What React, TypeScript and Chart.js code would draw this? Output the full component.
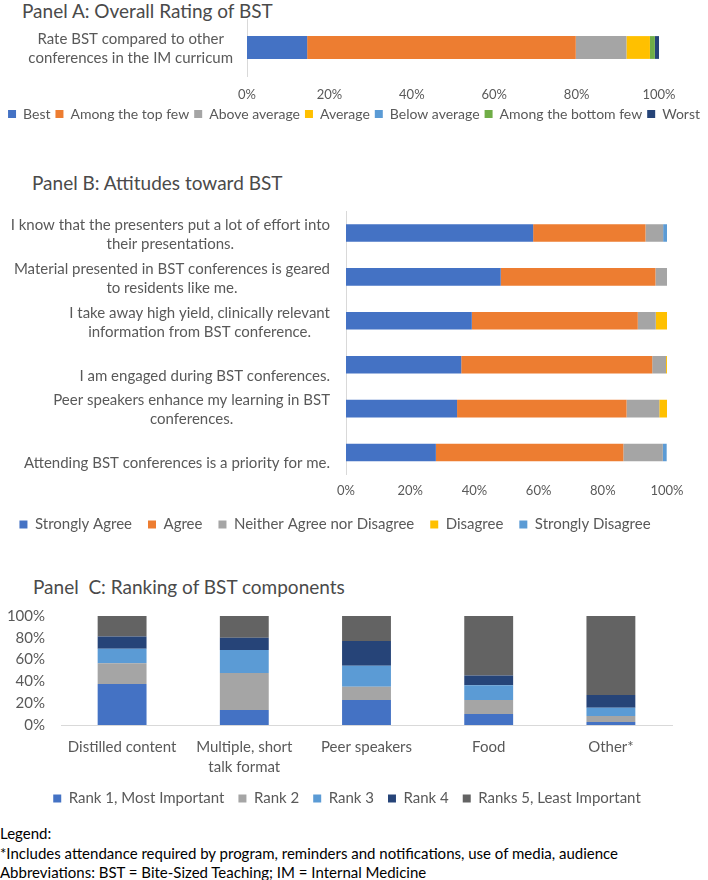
import React, { useEffect, useRef } from "react";
import { Chart, registerables } from "chart.js";
Chart.register(...registerables);

const FONT = "Lato, 'Noto Sans', sans-serif";
const TEXT = "#595959";
const TITLE = "#4a4a4a";
const AXIS = "#D9D9D9";

// ---------- Panel A data ----------
const ratingCategory = [["Rate BST compared to other", "conferences in the IM curricum"]];
const ratingNames = ["Best", "Among the top few", "Above average", "Average", "Below average", "Among the bottom few", "Worst"];
const ratingValues = [14.6, 65.2, 12.3, 5.7, 0, 1.2, 1.0];
const ratingColors = ["#4472C4", "#ED7D31", "#A5A5A5", "#FFC000", "#5B9BD5", "#70AD47", "#264478"];

// ---------- Panel B data ----------
const attitudeStatements = [
  ["I know that the presenters put a lot of effort into", "their presentations."],
  ["Material presented in BST conferences is geared", "to residents like me."],
  ["I take away high yield, clinically relevant", "information from BST conference."],
  ["", "I am engaged during BST conferences."],
  ["Peer speakers enhance my learning in BST", "conferences."],
  ["", "Attending BST conferences is a priority for me."],
];
const attitudeNames = ["Strongly Agree", "Agree", "Neither Agree nor Disagree", "Disagree", "Strongly Disagree"];
const stronglyAgree = [58.3, 48.2, 39.2, 35.9, 34.6, 28.0];
const agree = [35.0, 48.2, 51.7, 59.5, 52.8, 58.4];
const neither = [5.5, 3.6, 5.6, 4.3, 10.2, 12.3];
const disagree = [0, 0, 3.5, 0.3, 2.4, 0];
const stronglyDisagree = [1.2, 0, 0, 0, 0, 1.2];
const attitudeColors = ["#4472C4", "#ED7D31", "#A5A5A5", "#FFC000", "#5B9BD5"];

// ---------- Panel C data ----------
const components = ["Distilled content", ["Multiple, short", "talk format"], "Peer speakers", "Food", "Other*"];
const rankNames = ["Rank 1, Most Important", "Rank 2", "Rank 3", "Rank 4", "Ranks 5, Least Important"];
const rank1 = [37.6, 13.8, 22.9, 10.1, 2.8];
const rank2 = [19.0, 33.9, 12.3, 12.8, 5.5];
const rank3 = [13.4, 21.1, 19.2, 13.5, 7.6];
const rank4 = [11.3, 11.3, 22.7, 8.9, 11.6];
const rank5 = [18.7, 19.9, 22.9, 54.7, 72.5];
const rankColors = ["#4472C4", "#A5A5A5", "#5B9BD5", "#264478", "#636363"];

const percentTick = (v: any) => v + "%";

// Draws multi-line category labels: each block right-aligned to the axis, lines centred within the block
const blockLabels = {
  id: "blockLabels",
  afterDraw(chart: any, _args: any, opts: any) {
    const { ctx } = chart;
    const yScale = chart.scales.y;
    const labels = chart.data.labels as any[];
    ctx.save();
    ctx.font = `${opts.size}px ${FONT}`;
    ctx.fillStyle = TEXT;
    ctx.textAlign = "center";
    ctx.textBaseline = "middle";
    labels.forEach((lab, i) => {
      const lines: string[] = Array.isArray(lab) ? lab : [lab];
      const w = Math.max(...lines.map((l) => ctx.measureText(l).width));
      const cx = chart.chartArea.left - opts.gap - w / 2;
      const cy = yScale.getPixelForTick(i) + (opts.offset || 0);
      lines.forEach((l, j) => {
        ctx.fillText(l, cx, cy + (j - (lines.length - 1) / 2) * opts.lineHeight);
      });
    });
    ctx.restore();
  },
};

function ChartCanvas({ top, height, build }: { top: number; height: number; build: () => any }) {
  const ref = useRef<HTMLCanvasElement>(null);
  useEffect(() => {
    const chart = new Chart(ref.current as HTMLCanvasElement, build());
    return () => chart.destroy();
  }, []);
  return (
    <canvas
      ref={ref}
      width={708}
      height={height}
      style={{ position: "absolute", left: 0, top, width: 708, height }}
    />
  );
}

const padAxis = (w: number) => ({
  type: "linear",
  position: "right",
  display: true,
  ticks: { display: false },
  grid: { display: false, drawTicks: false },
  border: { display: false },
  afterFit: (s: any) => {
    s.width = w;
  },
});

const legendOpts = (size: number, padding: number) => ({
  position: "bottom",
  labels: { boxWidth: 8, boxHeight: 8, color: TEXT, font: { family: FONT, size }, padding },
});

function buildA() {
  return {
    type: "bar",
    data: {
      labels: ratingCategory,
      datasets: ratingNames.map((n, i) => ({
        label: n,
        data: [ratingValues[i]],
        backgroundColor: ratingColors[i],
        borderWidth: 0,
        barPercentage: 0.4,
        categoryPercentage: 1,
      })),
    },
    options: {
      indexAxis: "y",
      responsive: false,
      animation: false,
      layout: { padding: { top: 19, left: 0, right: 0, bottom: 0 } },
      scales: {
        x: {
          stacked: true,
          min: 0,
          max: 100,
          ticks: { stepSize: 20, autoSkip: false, callback: percentTick, color: TEXT, font: { family: FONT, size: 13 }, padding: 11 },
          grid: { display: false, drawTicks: false },
          border: { display: false },
          afterFit: (s: any) => {
            s.height = 26;
          },
        },
        y: {
          stacked: true,
          ticks: { display: false },
          grid: { display: false, drawTicks: false },
          border: { color: AXIS },
          afterFit: (s: any) => {
            s.width = 247;
          },
        },
        pad: padAxis(49),
      },
      plugins: {
        legend: legendOpts(14, 5),
        tooltip: { enabled: false },
        blockLabels: { size: 15, lineHeight: 19, gap: 14, offset: 1.5 },
      },
    },
    plugins: [blockLabels],
  };
}

function buildB() {
  const series = [stronglyAgree, agree, neither, disagree, stronglyDisagree];
  return {
    type: "bar",
    data: {
      labels: attitudeStatements,
      datasets: attitudeNames.map((n, i) => ({
        label: n,
        data: series[i],
        backgroundColor: attitudeColors[i],
        borderWidth: 0,
        barPercentage: 0.4,
        categoryPercentage: 1,
      })),
    },
    options: {
      indexAxis: "y",
      responsive: false,
      animation: false,
      layout: { padding: { top: 11, left: 0, right: 38, bottom: 0 } },
      scales: {
        x: {
          stacked: true,
          min: 0,
          max: 100,
          ticks: { stepSize: 20, autoSkip: false, callback: percentTick, color: TEXT, font: { family: FONT, size: 13 }, padding: 9 },
          grid: { display: false, drawTicks: false },
          border: { display: false },
          afterFit: (s: any) => {
            s.height = 26.5;
          },
        },
        y: {
          stacked: true,
          ticks: { display: false },
          grid: { display: false, drawTicks: false },
          border: { color: AXIS },
          afterFit: (s: any) => {
            s.width = 346;
          },
        },
        pad: padAxis(3),
      },
      plugins: {
        legend: legendOpts(15, 16),
        tooltip: { enabled: false },
        blockLabels: { size: 15, lineHeight: 19, gap: 16, offset: 1.5 },
      },
    },
    plugins: [blockLabels],
  };
}

function buildC() {
  const series = [rank1, rank2, rank3, rank4, rank5];
  return {
    type: "bar",
    data: {
      labels: components,
      datasets: rankNames.map((n, i) => ({
        label: n,
        data: series[i],
        backgroundColor: rankColors[i],
        borderWidth: 0,
        barPercentage: 0.4,
        categoryPercentage: 1,
      })),
    },
    options: {
      responsive: false,
      animation: false,
      layout: { padding: { top: 0, left: 0, right: 14, bottom: 0 } },
      scales: {
        x: {
          stacked: true,
          ticks: { color: TEXT, font: { family: FONT, size: 15, lineHeight: 1.3333 }, padding: 12, maxRotation: 0, autoSkip: false },
          grid: { display: false, drawTicks: false },
          border: { color: AXIS },
          afterFit: (s: any) => {
            s.height = 52;
          },
        },
        y: {
          stacked: true,
          min: 0,
          max: 100,
          ticks: { stepSize: 20, autoSkip: false, callback: percentTick, color: TEXT, font: { family: FONT, size: 15 }, padding: 16 },
          grid: { display: false, drawTicks: false },
          border: { display: false },
          afterFit: (s: any) => {
            s.width = 61;
          },
        },
        pad: padAxis(22),
      },
      plugins: {
        legend: legendOpts(15, 14),
        tooltip: { enabled: false },
      },
    },
  };
}

const titleStyle = (left: number, top: number): React.CSSProperties => ({
  position: "absolute",
  left,
  top,
  font: `19px ${FONT}`,
  lineHeight: "24px",
  color: TITLE,
  whiteSpace: "pre",
  margin: 0,
});

export default function App() {
  return (
    <div style={{ position: "absolute", left: 0, top: 0, width: 708, height: 880, overflow: "hidden", background: "#fff" }}>
      <div style={titleStyle(22, -1)}>Panel A: Overall Rating of BST</div>
      <ChartCanvas top={0} height={131} build={buildA} />
      <div style={titleStyle(32, 171)}>Panel B: Attitudes toward BST</div>
      <ChartCanvas top={200} height={342} build={buildB} />
      <div style={titleStyle(33, 575)}>{"Panel  C: Ranking of BST components"}</div>
      <ChartCanvas top={591} height={225} build={buildC} />
      <div
        style={{
          position: "absolute",
          left: 0,
          top: 824,
          font: `15px ${FONT}`,
          lineHeight: "19.5px",
          color: "#000",
          whiteSpace: "pre",
        }}
      >
        <div>Legend:</div>
        <div>*Includes attendance required by program, reminders and notifications, use of media, audience</div>
        <div>Abbreviations: BST = Bite-Sized Teaching; IM = Internal Medicine</div>
      </div>
    </div>
  );
}
